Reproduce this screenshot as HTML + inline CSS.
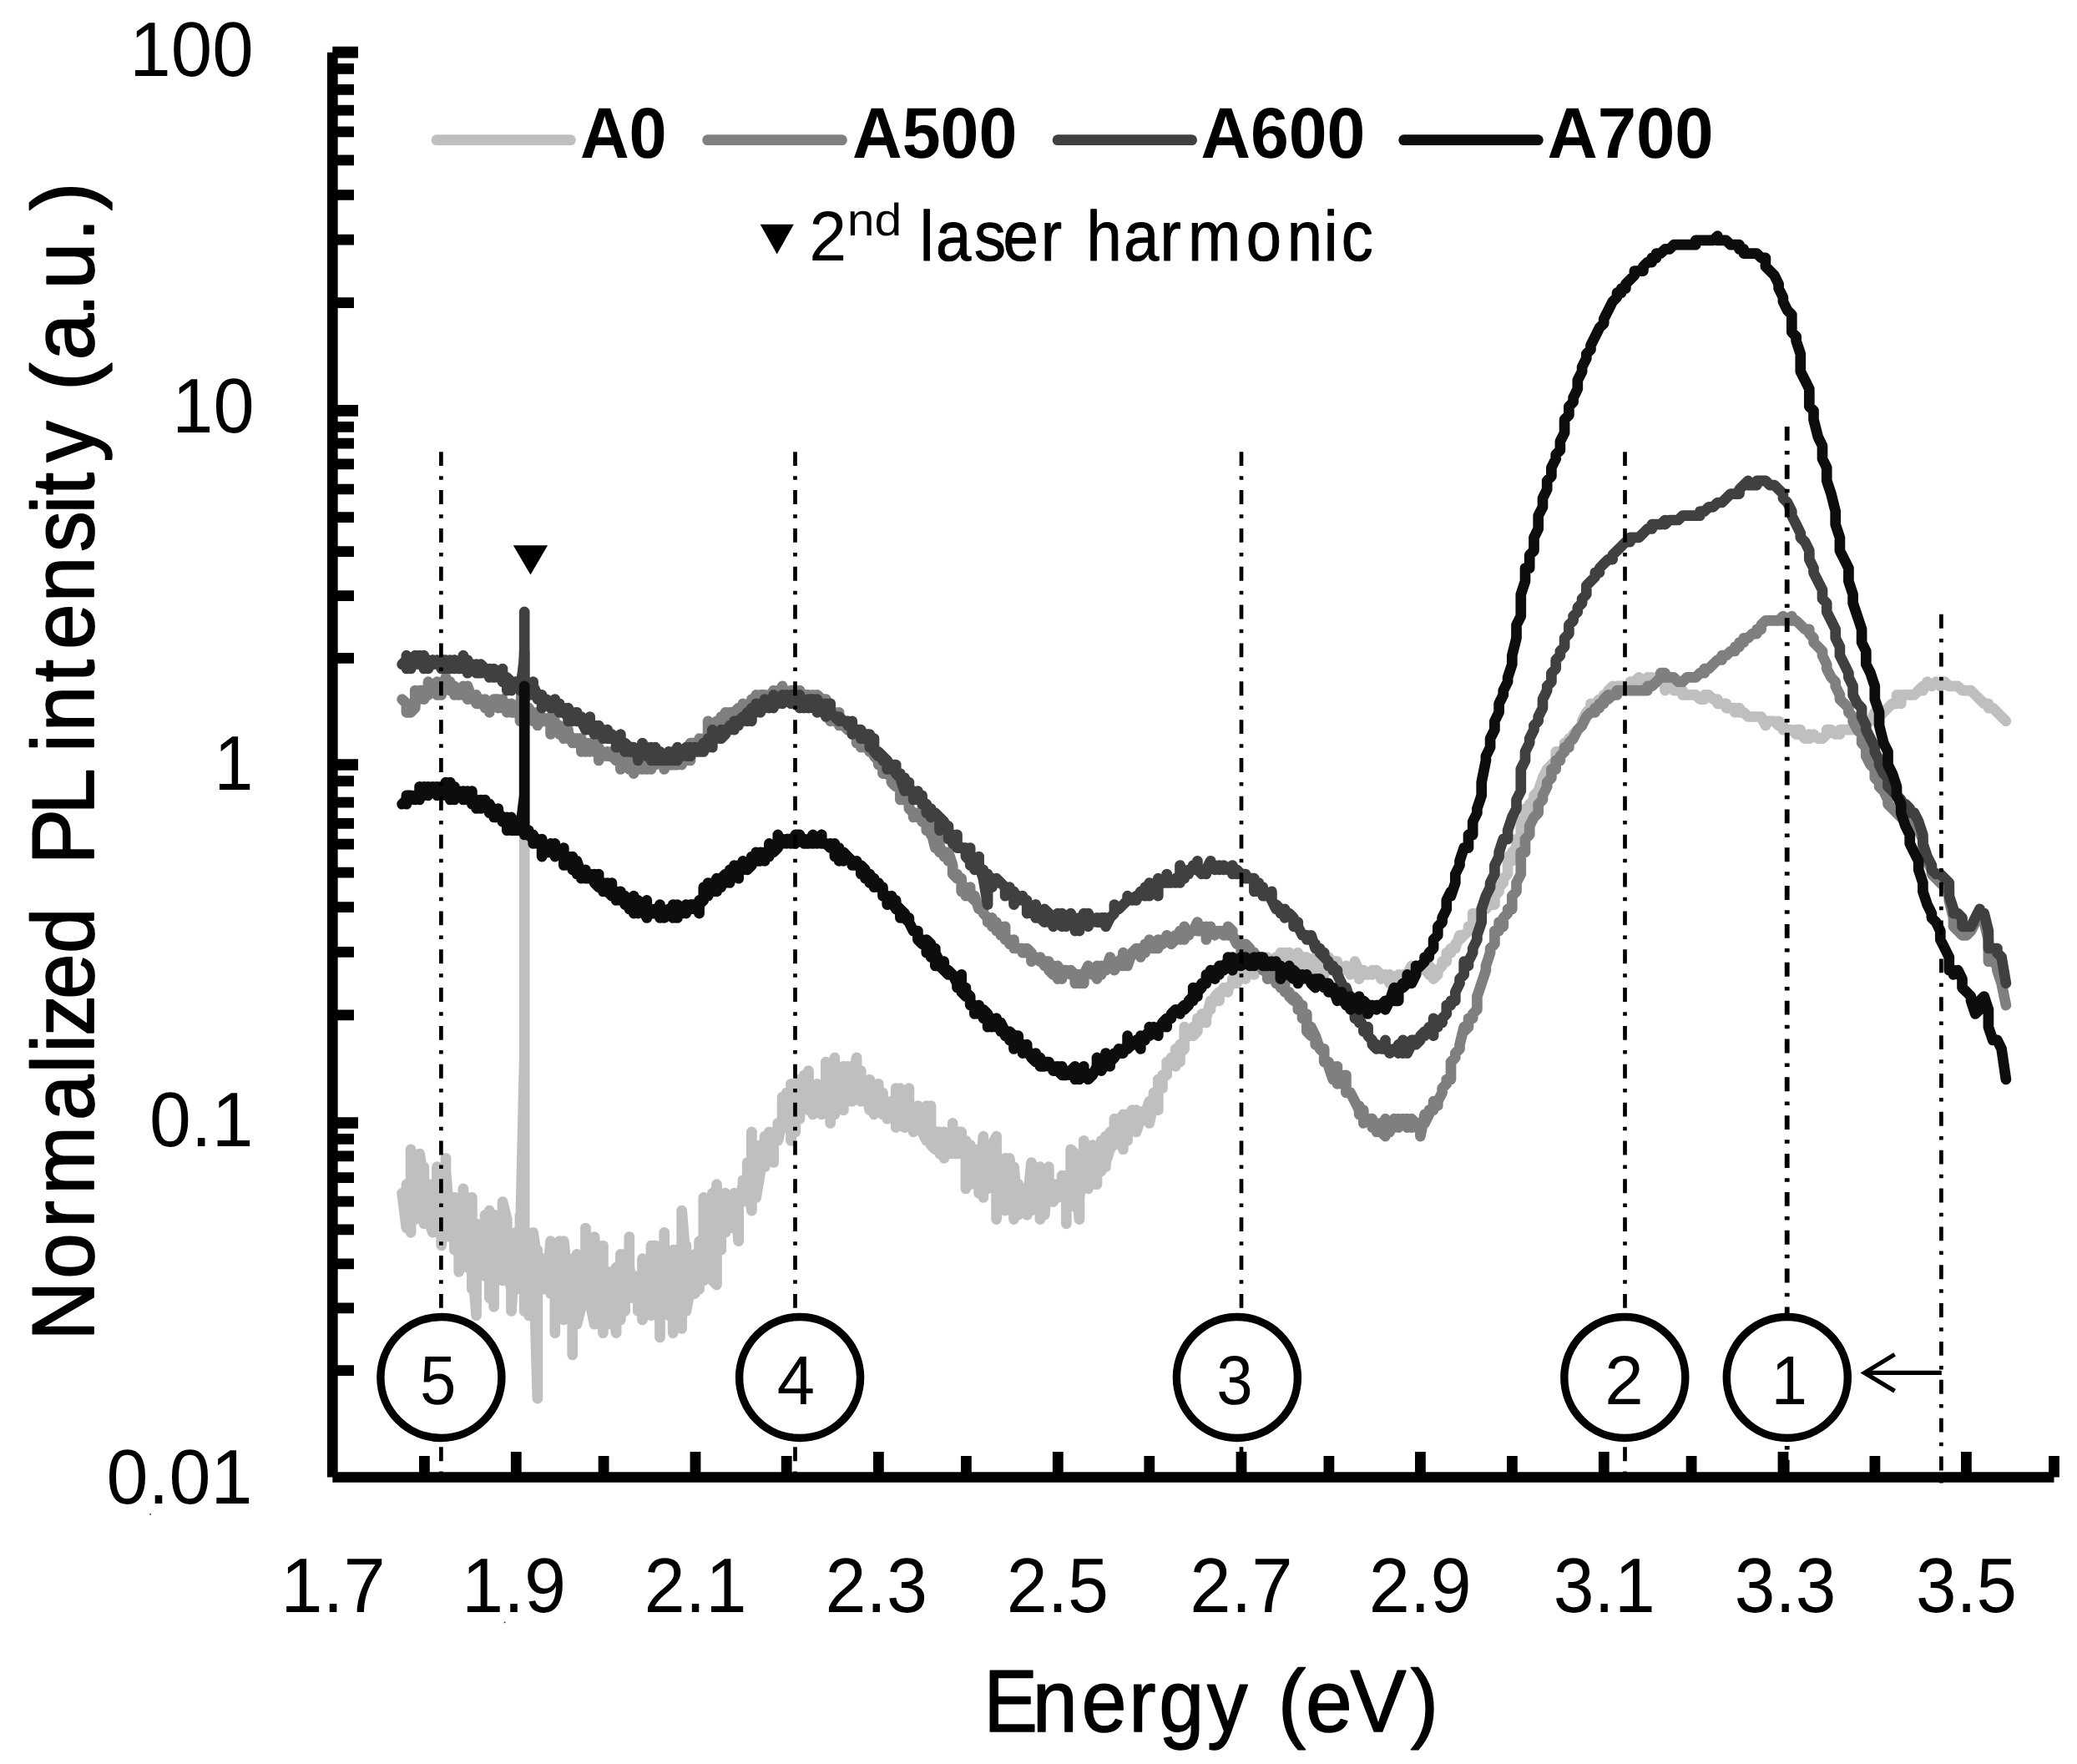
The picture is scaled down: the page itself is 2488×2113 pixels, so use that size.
<!DOCTYPE html>
<html><head><meta charset="utf-8"><title>PL spectra</title>
<style>html,body{margin:0;padding:0;background:#fff}svg{display:block}</style></head>
<body>
<svg width="2488" height="2113" viewBox="0 0 2488 2113" font-family="Liberation Sans, Arial, sans-serif" style="font-kerning:none" text-rendering="geometricPrecision">
<rect width="2488" height="2113" fill="#fff"/>
<g fill="none" stroke-width="12.7" stroke-linejoin="round" stroke-linecap="round">
<path stroke="#bfbfbf" d="M481.6,1429.2 L486.9,1471.0 L486.9,1418.7 L486.9,1423.9 L486.9,1418.7 L486.9,1450.1 L492.1,1429.2 L492.1,1455.3 L492.1,1387.3 L492.1,1455.3 L492.1,1376.8 L492.1,1476.3 L492.1,1429.2 L492.1,1455.3 L497.3,1429.2 L497.3,1423.9 L497.3,1460.6 L497.3,1429.2 L502.6,1455.3 L502.6,1392.5 L502.6,1450.1 L502.6,1382.0 L507.8,1413.5 L507.8,1423.9 L507.8,1397.7 L507.8,1465.8 L513.0,1434.4 L513.0,1418.7 L513.0,1460.6 L513.0,1434.4 L513.0,1460.6 L518.3,1476.3 L518.3,1418.7 L518.3,1455.3 L523.5,1476.3 L523.5,1408.2 L523.5,1429.2 L523.5,1397.7 L523.5,1450.1 L528.7,1465.8 L528.7,1429.2 L528.7,1492.0 L528.7,1465.8 L534.0,1481.5 L534.0,1413.5 L534.0,1471.0 L534.0,1387.3 L534.0,1476.3 L534.0,1403.0 L539.2,1465.8 L539.2,1450.1 L539.2,1481.5 L539.2,1444.9 L539.2,1471.0 L544.4,1434.4 L544.4,1481.5 L544.4,1460.6 L544.4,1476.3 L544.4,1450.1 L544.4,1497.2 L549.7,1481.5 L549.7,1460.6 L549.7,1523.4 L554.9,1423.9 L554.9,1497.2 L554.9,1444.9 L554.9,1512.9 L560.1,1439.6 L560.1,1518.2 L560.1,1434.4 L560.1,1471.0 L565.4,1444.9 L565.4,1544.3 L565.4,1434.4 L565.4,1507.7 L570.6,1575.7 L570.6,1507.7 L570.6,1533.9 L570.6,1465.8 L570.6,1497.2 L575.9,1486.7 L575.9,1471.0 L575.9,1502.4 L575.9,1486.7 L581.1,1486.7 L581.1,1455.3 L581.1,1528.6 L581.1,1486.7 L586.3,1450.1 L586.3,1533.9 L586.3,1512.9 L586.3,1554.8 L586.3,1481.5 L591.6,1455.3 L591.6,1565.3 L591.6,1476.3 L591.6,1481.5 L596.8,1518.2 L596.8,1476.3 L596.8,1492.0 L596.8,1486.7 L596.8,1507.7 L602.0,1533.9 L602.0,1502.4 L602.0,1528.6 L602.0,1486.7 L602.0,1512.9 L602.0,1439.6 L607.3,1460.6 L607.3,1523.4 L607.3,1486.7 L607.3,1518.2 L612.5,1544.3 L612.5,1528.6 L612.5,1533.9 L612.5,1486.7 L612.5,1570.5 L617.7,1486.7 L617.7,1492.0 L617.7,1476.3 L617.7,1507.7 L623.0,1518.2 L623.0,1455.3 L623.0,1544.3 L628.2,1528.6 L628.2,1492.0 L623.0,1492.0 L628.2,1266.9 L628.2,832.4 L628.2,1497.2 L628.2,1492.0 L628.2,1570.5 L628.2,1539.1 L633.4,1570.5 L633.4,1575.7 L633.4,1492.0 L633.4,1528.6 L638.7,1533.9 L638.7,1476.3 L643.9,1512.9 L638.7,1497.2 L643.9,1675.2 L643.9,1497.2 L643.9,1523.4 L643.9,1507.7 L643.9,1539.1 L649.1,1544.3 L649.1,1528.6 L649.1,1533.9 L649.1,1507.7 L654.4,1518.2 L654.4,1507.7 L654.4,1533.9 L654.4,1523.4 L654.4,1544.3 L659.6,1486.7 L659.6,1549.6 L659.6,1502.4 L659.6,1523.4 L664.8,1512.9 L664.8,1533.9 L664.8,1512.9 L664.8,1596.7 L664.8,1497.2 L664.8,1502.4 L670.1,1565.3 L670.1,1497.2 L670.1,1528.6 L670.1,1486.7 L675.3,1581.0 L675.3,1486.7 L675.3,1544.3 L675.3,1486.7 L680.6,1539.1 L680.6,1560.0 L680.6,1539.1 L680.6,1560.0 L685.8,1539.1 L685.8,1544.3 L685.8,1528.6 L685.8,1549.6 L685.8,1507.7 L685.8,1622.9 L685.8,1507.7 L691.0,1554.8 L691.0,1502.4 L691.0,1586.2 L696.3,1565.3 L696.3,1518.2 L696.3,1554.8 L696.3,1523.4 L696.3,1533.9 L701.5,1539.1 L701.5,1471.0 L701.5,1544.3 L701.5,1507.7 L701.5,1518.2 L706.7,1492.0 L706.7,1560.0 L712.0,1586.2 L712.0,1533.9 L712.0,1570.5 L712.0,1481.5 L717.2,1539.1 L717.2,1549.6 L717.2,1523.4 L717.2,1554.8 L722.4,1512.9 L722.4,1492.0 L722.4,1596.7 L722.4,1528.6 L727.7,1565.3 L727.7,1586.2 L727.7,1523.4 L727.7,1554.8 L732.9,1565.3 L732.9,1560.0 L732.9,1565.3 L732.9,1523.4 L732.9,1560.0 L738.1,1596.7 L738.1,1518.2 L738.1,1575.7 L743.4,1549.6 L743.4,1518.2 L743.4,1581.0 L743.4,1502.4 L748.6,1549.6 L748.6,1502.4 L748.6,1570.5 L748.6,1549.6 L753.8,1502.4 L753.8,1554.8 L753.8,1481.5 L753.8,1518.2 L759.1,1544.3 L759.1,1554.8 L759.1,1539.1 L764.3,1549.6 L764.3,1528.6 L764.3,1570.5 L764.3,1539.1 L764.3,1544.3 L769.5,1554.8 L769.5,1507.7 L769.5,1581.0 L774.8,1544.3 L774.8,1528.6 L774.8,1544.3 L774.8,1523.4 L774.8,1544.3 L780.0,1518.2 L780.0,1544.3 L780.0,1492.0 L780.0,1575.7 L785.2,1523.4 L785.2,1492.0 L785.2,1528.6 L785.2,1523.4 L785.2,1539.1 L790.5,1502.4 L790.5,1601.9 L790.5,1497.2 L795.7,1539.1 L795.7,1523.4 L795.7,1533.9 L795.7,1476.3 L795.7,1497.2 L801.0,1544.3 L801.0,1528.6 L801.0,1575.7 L801.0,1507.7 L806.2,1528.6 L806.2,1596.7 L806.2,1497.2 L811.4,1523.4 L811.4,1544.3 L811.4,1497.2 L816.7,1528.6 L816.7,1591.4 L816.7,1450.1 L821.9,1512.9 L821.9,1492.0 L821.9,1533.9 L821.9,1512.9 L821.9,1570.5 L827.1,1544.3 L827.1,1512.9 L832.4,1523.4 L832.4,1549.6 L832.4,1502.4 L837.6,1544.3 L837.6,1486.7 L842.8,1492.0 L842.8,1434.4 L842.8,1533.9 L842.8,1518.2 L848.1,1497.2 L848.1,1528.6 L848.1,1507.7 L853.3,1429.2 L853.3,1533.9 L858.5,1539.1 L858.5,1418.7 L863.8,1492.0 L863.8,1476.3 L863.8,1497.2 L863.8,1465.8 L869.0,1476.3 L869.0,1429.2 L869.0,1476.3 L869.0,1450.1 L869.0,1471.0 L874.2,1471.0 L874.2,1455.3 L874.2,1460.6 L874.2,1450.1 L879.5,1471.0 L879.5,1429.2 L884.7,1486.7 L884.7,1434.4 L884.7,1460.6 L884.7,1444.9 L890.0,1418.7 L890.0,1413.5 L890.0,1434.4 L895.2,1439.6 L895.2,1392.5 L895.2,1413.5 L900.4,1450.1 L900.4,1355.9 L900.4,1418.7 L900.4,1392.5 L905.7,1413.5 L905.7,1392.5 L905.7,1434.4 L910.9,1403.0 L910.9,1371.6 L916.1,1397.7 L916.1,1361.1 L916.1,1376.8 L921.4,1366.3 L921.4,1387.3 L921.4,1355.9 L926.6,1392.5 L926.6,1366.3 L931.8,1350.6 L931.8,1345.4 L931.8,1366.3 L937.1,1345.4 L937.1,1314.0 L937.1,1340.2 L937.1,1314.0 L942.3,1340.2 L942.3,1308.8 L942.3,1334.9 L947.5,1329.7 L947.5,1298.3 L947.5,1366.3 L952.8,1298.3 L952.8,1355.9 L952.8,1314.0 L958.0,1319.2 L958.0,1293.0 L958.0,1340.2 L958.0,1324.5 L963.2,1303.5 L963.2,1308.8 L963.2,1287.8 L968.5,1308.8 L968.5,1329.7 L968.5,1282.6 L968.5,1303.5 L973.7,1314.0 L973.7,1334.9 L973.7,1303.5 L978.9,1298.3 L978.9,1314.0 L978.9,1303.5 L984.2,1324.5 L984.2,1334.9 L984.2,1303.5 L989.4,1314.0 L989.4,1272.1 L989.4,1308.8 L994.7,1287.8 L994.7,1345.4 L994.7,1308.8 L999.9,1303.5 L999.9,1266.9 L999.9,1334.9 L1005.1,1293.0 L1005.1,1319.2 L1010.4,1277.3 L1010.4,1329.7 L1010.4,1308.8 L1015.6,1303.5 L1015.6,1319.2 L1015.6,1277.3 L1015.6,1303.5 L1020.8,1319.2 L1020.8,1282.6 L1020.8,1319.2 L1020.8,1293.0 L1026.1,1266.9 L1026.1,1298.3 L1026.1,1282.6 L1031.3,1308.8 L1031.3,1282.6 L1031.3,1319.2 L1031.3,1293.0 L1036.5,1308.8 L1036.5,1298.3 L1036.5,1303.5 L1041.8,1329.7 L1041.8,1293.0 L1047.0,1334.9 L1047.0,1308.8 L1047.0,1319.2 L1052.2,1298.3 L1052.2,1303.5 L1057.5,1324.5 L1057.5,1308.8 L1057.5,1334.9 L1062.7,1334.9 L1062.7,1324.5 L1062.7,1340.2 L1067.9,1319.2 L1067.9,1329.7 L1067.9,1324.5 L1073.2,1334.9 L1073.2,1303.5 L1073.2,1350.6 L1078.4,1308.8 L1078.4,1324.5 L1078.4,1303.5 L1078.4,1334.9 L1083.6,1350.6 L1083.6,1345.4 L1088.9,1303.5 L1088.9,1324.5 L1088.9,1319.2 L1094.1,1355.9 L1094.1,1334.9 L1099.4,1345.4 L1099.4,1324.5 L1104.6,1350.6 L1104.6,1355.9 L1109.8,1366.3 L1109.8,1324.5 L1109.8,1340.2 L1115.1,1350.6 L1115.1,1324.5 L1115.1,1371.6 L1120.3,1376.8 L1120.3,1355.9 L1125.5,1355.9 L1125.5,1382.0 L1125.5,1355.9 L1125.5,1366.3 L1130.8,1387.3 L1130.8,1355.9 L1136.0,1366.3 L1136.0,1382.0 L1141.2,1376.8 L1141.2,1382.0 L1141.2,1345.4 L1141.2,1361.1 L1146.5,1382.0 L1146.5,1355.9 L1151.7,1355.9 L1151.7,1382.0 L1156.9,1366.3 L1156.9,1423.9 L1156.9,1387.3 L1162.2,1418.7 L1162.2,1371.6 L1167.4,1392.5 L1167.4,1376.8 L1167.4,1413.5 L1172.6,1376.8 L1172.6,1429.2 L1172.6,1413.5 L1177.9,1361.1 L1177.9,1434.4 L1177.9,1387.3 L1183.1,1423.9 L1183.1,1371.6 L1183.1,1413.5 L1188.3,1371.6 L1188.3,1418.7 L1188.3,1371.6 L1193.6,1361.1 L1193.6,1460.6 L1198.8,1397.7 L1198.8,1429.2 L1198.8,1413.5 L1204.1,1408.2 L1204.1,1450.1 L1204.1,1387.3 L1209.3,1429.2 L1209.3,1387.3 L1214.5,1450.1 L1214.5,1460.6 L1214.5,1397.7 L1219.8,1455.3 L1219.8,1418.7 L1225.0,1450.1 L1225.0,1423.9 L1225.0,1429.2 L1230.2,1455.3 L1230.2,1444.9 L1235.5,1392.5 L1235.5,1450.1 L1240.7,1403.0 L1240.7,1429.2 L1240.7,1403.0 L1245.9,1423.9 L1245.9,1397.7 L1245.9,1460.6 L1251.2,1403.0 L1251.2,1455.3 L1256.4,1397.7 L1256.4,1429.2 L1256.4,1423.9 L1261.6,1439.6 L1261.6,1418.7 L1266.9,1434.4 L1266.9,1418.7 L1266.9,1434.4 L1272.1,1423.9 L1272.1,1408.2 L1272.1,1423.9 L1277.3,1429.2 L1277.3,1465.8 L1277.3,1408.2 L1282.6,1423.9 L1282.6,1444.9 L1282.6,1376.8 L1287.8,1382.0 L1287.8,1413.5 L1293.0,1460.6 L1293.0,1418.7 L1293.0,1434.4 L1298.3,1403.0 L1298.3,1366.3 L1303.5,1423.9 L1303.5,1376.8 L1308.8,1418.7 L1308.8,1371.6 L1314.0,1418.7 L1314.0,1382.0 L1319.2,1371.6 L1319.2,1403.0 L1319.2,1366.3 L1324.5,1397.7 L1324.5,1361.1 L1324.5,1392.5 L1329.7,1376.8 L1329.7,1355.9 L1334.9,1371.6 L1334.9,1340.2 L1334.9,1361.1 L1340.2,1355.9 L1340.2,1366.3 L1340.2,1340.2 L1345.4,1376.8 L1345.4,1334.9 L1350.6,1366.3 L1350.6,1340.2 L1355.9,1329.7 L1355.9,1340.2 L1361.1,1329.7 L1361.1,1355.9 L1366.3,1340.2 L1366.3,1334.9 L1371.6,1329.7 L1371.6,1334.9 L1376.8,1319.2 L1376.8,1345.4 L1382.0,1319.2 L1382.0,1308.8 L1387.3,1329.7 L1387.3,1293.0 L1392.5,1303.5 L1392.5,1287.8 L1397.7,1287.8 L1397.7,1272.1 L1403.0,1272.1 L1403.0,1266.9 L1408.2,1277.3 L1408.2,1256.4 L1413.5,1272.1 L1413.5,1251.2 L1413.5,1261.6 L1418.7,1256.4 L1418.7,1230.2 L1423.9,1240.7 L1429.2,1240.7 L1429.2,1230.2 L1429.2,1240.7 L1434.4,1235.5 L1434.4,1219.8 L1434.4,1230.2 L1439.6,1219.8 L1439.6,1214.5 L1444.9,1214.5 L1444.9,1225.0 L1444.9,1219.8 L1450.1,1198.8 L1450.1,1209.3 L1450.1,1204.1 L1455.3,1198.8 L1455.3,1193.6 L1460.6,1188.3 L1460.6,1198.8 L1460.6,1188.3 L1465.8,1188.3 L1465.8,1183.1 L1471.0,1188.3 L1471.0,1183.1 L1476.3,1177.9 L1476.3,1172.6 L1481.5,1177.9 L1481.5,1172.6 L1486.7,1172.6 L1486.7,1167.4 L1492.0,1167.4 L1492.0,1156.9 L1492.0,1172.6 L1497.2,1156.9 L1502.4,1167.4 L1502.4,1156.9 L1507.7,1156.9 L1507.7,1151.7 L1512.9,1156.9 L1512.9,1162.2 L1512.9,1151.7 L1518.2,1162.2 L1518.2,1146.5 L1523.4,1151.7 L1523.4,1156.9 L1523.4,1151.7 L1528.6,1156.9 L1528.6,1146.5 L1533.9,1146.5 L1533.9,1141.2 L1533.9,1146.5 L1539.1,1146.5 L1539.1,1141.2 L1544.3,1151.7 L1544.3,1141.2 L1549.6,1162.2 L1549.6,1146.5 L1554.8,1141.2 L1554.8,1156.9 L1560.0,1146.5 L1565.3,1146.5 L1565.3,1156.9 L1565.3,1151.7 L1570.5,1151.7 L1570.5,1156.9 L1575.7,1162.2 L1575.7,1146.5 L1575.7,1151.7 L1581.0,1151.7 L1581.0,1167.4 L1586.2,1167.4 L1586.2,1156.9 L1591.4,1162.2 L1591.4,1146.5 L1596.7,1156.9 L1596.7,1151.7 L1601.9,1151.7 L1601.9,1156.9 L1607.1,1162.2 L1612.4,1162.2 L1612.4,1156.9 L1612.4,1162.2 L1617.6,1162.2 L1617.6,1167.4 L1622.9,1156.9 L1622.9,1151.7 L1628.1,1162.2 L1628.1,1172.6 L1628.1,1167.4 L1633.3,1162.2 L1633.3,1167.4 L1638.6,1167.4 L1643.8,1162.2 L1643.8,1167.4 L1649.0,1162.2 L1654.3,1167.4 L1654.3,1172.6 L1659.5,1167.4 L1664.7,1177.9 L1664.7,1167.4 L1670.0,1172.6 L1670.0,1177.9 L1675.2,1167.4 L1675.2,1172.6 L1680.4,1172.6 L1680.4,1167.4 L1685.7,1167.4 L1690.9,1156.9 L1690.9,1172.6 L1696.1,1162.2 L1696.1,1156.9 L1696.1,1162.2 L1701.4,1156.9 L1706.6,1162.2 L1706.6,1156.9 L1711.8,1167.4 L1711.8,1156.9 L1717.1,1162.2 L1717.1,1172.6 L1722.3,1167.4 L1722.3,1162.2 L1727.6,1156.9 L1727.6,1151.7 L1732.8,1151.7 L1732.8,1141.2 L1738.0,1141.2 L1738.0,1136.0 L1743.3,1136.0 L1743.3,1130.8 L1743.3,1136.0 L1748.5,1120.3 L1748.5,1125.5 L1753.7,1120.3 L1759.0,1115.1 L1759.0,1109.8 L1764.2,1109.8 L1764.2,1094.1 L1769.4,1099.4 L1769.4,1094.1 L1774.7,1094.1 L1774.7,1088.9 L1779.9,1088.9 L1785.1,1083.6 L1790.4,1083.6 L1790.4,1073.2 L1795.6,1067.9 L1795.6,1062.7 L1800.8,1057.5 L1800.8,1052.2 L1806.1,1047.0 L1806.1,1026.1 L1811.3,1031.3 L1811.3,1020.8 L1816.5,1015.6 L1816.5,1005.1 L1821.8,1005.1 L1821.8,984.2 L1827.0,978.9 L1827.0,968.5 L1832.2,968.5 L1832.2,963.2 L1837.5,958.0 L1837.5,952.8 L1842.7,947.5 L1848.0,931.8 L1853.2,921.4 L1858.4,916.1 L1863.7,910.9 L1863.7,900.4 L1874.1,900.4 L1874.1,890.0 L1879.4,890.0 L1879.4,884.7 L1884.6,884.7 L1884.6,879.5 L1889.8,874.2 L1895.1,869.0 L1895.1,863.8 L1900.3,853.3 L1905.5,848.1 L1905.5,842.8 L1910.8,848.1 L1910.8,842.8 L1916.0,837.6 L1921.2,837.6 L1921.2,832.4 L1926.5,832.4 L1926.5,827.1 L1931.7,821.9 L1937.0,827.1 L1937.0,821.9 L1952.7,821.9 L1952.7,816.7 L1957.9,816.7 L1963.1,811.4 L1968.4,816.7 L1973.6,811.4 L1973.6,816.7 L1978.8,811.4 L1978.8,816.7 L1984.1,811.4 L1984.1,816.7 L1989.3,811.4 L1989.3,816.7 L1994.5,811.4 L1994.5,827.1 L1999.8,821.9 L2005.0,827.1 L2015.5,827.1 L2015.5,832.4 L2031.2,832.4 L2036.4,837.6 L2041.7,837.6 L2041.7,832.4 L2046.9,832.4 L2052.1,837.6 L2057.4,837.6 L2057.4,842.8 L2067.8,842.8 L2067.8,848.1 L2078.3,848.1 L2078.3,853.3 L2083.5,848.1 L2083.5,853.3 L2088.8,853.3 L2094.0,858.5 L2109.7,858.5 L2114.9,869.0 L2114.9,863.8 L2125.4,863.8 L2130.6,869.0 L2130.6,863.8 L2135.9,869.0 L2135.9,874.2 L2146.3,874.2 L2151.6,879.5 L2151.6,874.2 L2156.8,874.2 L2156.8,879.5 L2162.1,884.7 L2167.3,879.5 L2167.3,884.7 L2172.5,879.5 L2177.8,884.7 L2183.0,884.7 L2188.2,879.5 L2188.2,874.2 L2193.5,874.2 L2198.7,879.5 L2203.9,879.5 L2203.9,874.2 L2219.6,874.2 L2219.6,869.0 L2230.1,869.0 L2235.3,863.8 L2240.6,863.8 L2245.8,853.3 L2245.8,858.5 L2251.1,853.3 L2251.1,858.5 L2256.3,853.3 L2261.5,848.1 L2266.8,842.8 L2272.0,842.8 L2272.0,832.4 L2277.2,842.8 L2277.2,832.4 L2292.9,832.4 L2298.2,827.1 L2303.4,821.9 L2303.4,827.1 L2308.6,816.7 L2313.9,821.9 L2319.1,816.7 L2324.3,821.9 L2329.6,816.7 L2334.8,821.9 L2345.3,821.9 L2350.5,827.1 L2361.0,827.1 L2366.2,832.4 L2371.5,837.6 L2376.7,842.8 L2381.9,842.8 L2381.9,848.1 L2387.2,848.1 L2392.4,853.3 L2397.6,858.5 L2402.9,863.8"/>
<path stroke="#7f7f7f" d="M481.6,837.6 L486.9,842.8 L486.9,853.3 L486.9,842.8 L486.9,853.3 L492.1,853.3 L492.1,842.8 L492.1,853.3 L497.3,848.1 L497.3,827.1 L497.3,832.4 L502.6,832.4 L502.6,837.6 L502.6,827.1 L502.6,837.6 L502.6,827.1 L507.8,827.1 L507.8,837.6 L507.8,827.1 L507.8,837.6 L513.0,827.1 L513.0,832.4 L513.0,816.7 L513.0,832.4 L513.0,821.9 L518.3,821.9 L518.3,827.1 L523.5,816.7 L523.5,832.4 L523.5,827.1 L523.5,832.4 L528.7,832.4 L528.7,821.9 L528.7,827.1 L528.7,821.9 L528.7,827.1 L534.0,811.4 L534.0,821.9 L534.0,811.4 L534.0,816.7 L539.2,827.1 L539.2,816.7 L539.2,827.1 L539.2,821.9 L544.4,821.9 L544.4,832.4 L544.4,827.1 L549.7,832.4 L549.7,827.1 L554.9,832.4 L554.9,821.9 L554.9,832.4 L560.1,827.1 L560.1,821.9 L560.1,837.6 L560.1,821.9 L565.4,837.6 L565.4,832.4 L565.4,837.6 L565.4,832.4 L565.4,837.6 L570.6,837.6 L570.6,842.8 L570.6,832.4 L570.6,842.8 L575.9,842.8 L575.9,837.6 L575.9,842.8 L581.1,837.6 L581.1,848.1 L586.3,842.8 L586.3,853.3 L586.3,842.8 L591.6,842.8 L591.6,837.6 L591.6,842.8 L591.6,837.6 L596.8,837.6 L596.8,848.1 L596.8,842.8 L602.0,837.6 L602.0,848.1 L602.0,837.6 L602.0,848.1 L602.0,842.8 L607.3,842.8 L607.3,853.3 L607.3,842.8 L607.3,848.1 L612.5,848.1 L612.5,853.3 L612.5,842.8 L612.5,853.3 L617.7,853.3 L617.7,848.1 L617.7,853.3 L623.0,848.1 L623.0,858.5 L623.0,848.1 L623.0,863.8 L628.2,848.1 L628.2,853.3 L623.0,853.3 L628.2,780.0 L628.2,858.5 L628.2,848.1 L628.2,858.5 L633.4,858.5 L633.4,848.1 L638.7,858.5 L638.7,853.3 L638.7,863.8 L643.9,853.3 L643.9,869.0 L643.9,858.5 L649.1,863.8 L649.1,858.5 L649.1,863.8 L654.4,863.8 L659.6,858.5 L659.6,879.5 L664.8,869.0 L664.8,874.2 L664.8,863.8 L664.8,874.2 L670.1,874.2 L670.1,869.0 L670.1,879.5 L670.1,874.2 L675.3,879.5 L675.3,874.2 L675.3,884.7 L680.6,879.5 L680.6,874.2 L680.6,884.7 L680.6,879.5 L685.8,884.7 L685.8,890.0 L685.8,884.7 L691.0,884.7 L691.0,890.0 L691.0,884.7 L696.3,884.7 L696.3,900.4 L696.3,890.0 L701.5,890.0 L701.5,900.4 L701.5,890.0 L706.7,900.4 L706.7,890.0 L712.0,895.2 L712.0,890.0 L712.0,900.4 L717.2,895.2 L717.2,900.4 L717.2,895.2 L717.2,910.9 L717.2,900.4 L722.4,900.4 L722.4,905.7 L722.4,900.4 L727.7,905.7 L727.7,900.4 L727.7,905.7 L732.9,905.7 L732.9,900.4 L732.9,905.7 L738.1,910.9 L738.1,905.7 L738.1,910.9 L743.4,910.9 L743.4,905.7 L743.4,921.4 L748.6,910.9 L748.6,905.7 L748.6,916.1 L748.6,910.9 L753.8,916.1 L753.8,905.7 L753.8,910.9 L753.8,905.7 L753.8,921.4 L759.1,916.1 L759.1,926.6 L759.1,916.1 L764.3,910.9 L764.3,921.4 L764.3,910.9 L769.5,905.7 L769.5,921.4 L769.5,910.9 L774.8,916.1 L774.8,921.4 L774.8,910.9 L774.8,916.1 L780.0,910.9 L780.0,921.4 L780.0,910.9 L785.2,916.1 L785.2,905.7 L785.2,910.9 L790.5,910.9 L790.5,905.7 L795.7,916.1 L795.7,910.9 L795.7,921.4 L801.0,910.9 L801.0,916.1 L806.2,916.1 L806.2,910.9 L806.2,916.1 L811.4,916.1 L811.4,910.9 L811.4,916.1 L811.4,905.7 L811.4,916.1 L816.7,910.9 L816.7,916.1 L816.7,905.7 L821.9,905.7 L821.9,910.9 L821.9,905.7 L827.1,905.7 L827.1,910.9 L827.1,890.0 L832.4,890.0 L832.4,895.2 L832.4,890.0 L837.6,895.2 L837.6,890.0 L837.6,895.2 L837.6,884.7 L842.8,890.0 L842.8,884.7 L842.8,890.0 L848.1,884.7 L848.1,863.8 L853.3,884.7 L853.3,869.0 L858.5,884.7 L858.5,869.0 L858.5,874.2 L858.5,863.8 L863.8,863.8 L863.8,874.2 L863.8,858.5 L869.0,863.8 L869.0,869.0 L869.0,853.3 L869.0,863.8 L869.0,853.3 L874.2,863.8 L874.2,858.5 L874.2,863.8 L874.2,853.3 L879.5,853.3 L884.7,848.1 L884.7,853.3 L884.7,848.1 L890.0,853.3 L890.0,842.8 L895.2,848.1 L895.2,853.3 L895.2,848.1 L900.4,853.3 L900.4,837.6 L900.4,848.1 L900.4,842.8 L905.7,842.8 L905.7,832.4 L905.7,842.8 L905.7,837.6 L910.9,848.1 L910.9,832.4 L916.1,832.4 L916.1,837.6 L916.1,832.4 L916.1,842.8 L921.4,832.4 L921.4,837.6 L926.6,827.1 L926.6,832.4 L931.8,827.1 L931.8,837.6 L937.1,827.1 L937.1,837.6 L937.1,821.9 L942.3,837.6 L942.3,832.4 L947.5,837.6 L947.5,827.1 L947.5,832.4 L947.5,827.1 L952.8,827.1 L952.8,837.6 L958.0,832.4 L958.0,827.1 L958.0,837.6 L963.2,837.6 L963.2,832.4 L968.5,832.4 L968.5,842.8 L968.5,837.6 L973.7,837.6 L973.7,832.4 L973.7,837.6 L978.9,837.6 L978.9,832.4 L984.2,837.6 L984.2,848.1 L984.2,837.6 L989.4,837.6 L989.4,842.8 L994.7,842.8 L994.7,863.8 L994.7,853.3 L999.9,853.3 L999.9,863.8 L1005.1,858.5 L1005.1,853.3 L1005.1,869.0 L1010.4,869.0 L1015.6,874.2 L1015.6,869.0 L1015.6,874.2 L1015.6,869.0 L1020.8,874.2 L1026.1,884.7 L1026.1,890.0 L1026.1,879.5 L1031.3,879.5 L1031.3,895.2 L1031.3,884.7 L1031.3,890.0 L1036.5,890.0 L1036.5,895.2 L1036.5,890.0 L1041.8,900.4 L1041.8,890.0 L1041.8,900.4 L1047.0,900.4 L1047.0,905.7 L1052.2,910.9 L1052.2,916.1 L1057.5,916.1 L1057.5,926.6 L1057.5,916.1 L1062.7,926.6 L1067.9,931.8 L1067.9,926.6 L1067.9,937.1 L1073.2,942.3 L1078.4,942.3 L1078.4,958.0 L1088.9,958.0 L1088.9,968.5 L1094.1,973.7 L1094.1,978.9 L1099.4,973.7 L1099.4,978.9 L1104.6,978.9 L1104.6,984.2 L1104.6,978.9 L1109.8,989.4 L1109.8,994.7 L1115.1,989.4 L1115.1,999.9 L1115.1,994.7 L1120.3,1015.6 L1120.3,1005.1 L1125.5,1020.8 L1125.5,1005.1 L1125.5,1015.6 L1130.8,1020.8 L1130.8,1026.1 L1130.8,1020.8 L1136.0,1026.1 L1136.0,1031.3 L1136.0,1020.8 L1141.2,1036.5 L1141.2,1047.0 L1146.5,1052.2 L1146.5,1047.0 L1146.5,1052.2 L1151.7,1052.2 L1151.7,1067.9 L1156.9,1062.7 L1156.9,1073.2 L1162.2,1062.7 L1162.2,1073.2 L1167.4,1078.4 L1167.4,1073.2 L1172.6,1088.9 L1172.6,1083.6 L1177.9,1088.9 L1177.9,1094.1 L1183.1,1099.4 L1183.1,1104.6 L1188.3,1099.4 L1188.3,1109.8 L1193.6,1104.6 L1193.6,1115.1 L1198.8,1109.8 L1198.8,1120.3 L1204.1,1109.8 L1204.1,1125.5 L1204.1,1115.1 L1204.1,1125.5 L1209.3,1125.5 L1209.3,1130.8 L1214.5,1130.8 L1214.5,1125.5 L1214.5,1136.0 L1225.0,1136.0 L1225.0,1141.2 L1230.2,1141.2 L1230.2,1136.0 L1235.5,1141.2 L1235.5,1151.7 L1235.5,1146.5 L1240.7,1146.5 L1245.9,1151.7 L1245.9,1146.5 L1251.2,1156.9 L1251.2,1151.7 L1256.4,1151.7 L1256.4,1162.2 L1261.6,1167.4 L1261.6,1156.9 L1261.6,1162.2 L1266.9,1156.9 L1266.9,1172.6 L1266.9,1156.9 L1272.1,1167.4 L1272.1,1172.6 L1272.1,1162.2 L1277.3,1162.2 L1282.6,1167.4 L1282.6,1162.2 L1287.8,1167.4 L1287.8,1177.9 L1287.8,1167.4 L1293.0,1167.4 L1293.0,1177.9 L1293.0,1167.4 L1298.3,1167.4 L1298.3,1177.9 L1298.3,1167.4 L1303.5,1156.9 L1303.5,1162.2 L1303.5,1156.9 L1308.8,1162.2 L1308.8,1167.4 L1314.0,1156.9 L1314.0,1172.6 L1314.0,1167.4 L1319.2,1167.4 L1319.2,1156.9 L1319.2,1162.2 L1324.5,1162.2 L1329.7,1146.5 L1329.7,1151.7 L1334.9,1151.7 L1334.9,1162.2 L1340.2,1151.7 L1340.2,1156.9 L1340.2,1151.7 L1345.4,1146.5 L1345.4,1156.9 L1345.4,1141.2 L1350.6,1151.7 L1350.6,1156.9 L1355.9,1141.2 L1361.1,1136.0 L1361.1,1141.2 L1366.3,1141.2 L1366.3,1146.5 L1366.3,1136.0 L1371.6,1141.2 L1371.6,1130.8 L1371.6,1136.0 L1376.8,1136.0 L1376.8,1125.5 L1376.8,1136.0 L1387.3,1136.0 L1387.3,1125.5 L1392.5,1130.8 L1392.5,1125.5 L1392.5,1130.8 L1397.7,1125.5 L1397.7,1120.3 L1403.0,1125.5 L1403.0,1130.8 L1408.2,1125.5 L1408.2,1120.3 L1413.5,1125.5 L1413.5,1115.1 L1418.7,1120.3 L1418.7,1125.5 L1418.7,1109.8 L1423.9,1120.3 L1423.9,1115.1 L1429.2,1115.1 L1434.4,1104.6 L1434.4,1115.1 L1439.6,1115.1 L1439.6,1109.8 L1444.9,1115.1 L1444.9,1125.5 L1444.9,1109.8 L1450.1,1115.1 L1450.1,1109.8 L1450.1,1115.1 L1455.3,1115.1 L1455.3,1120.3 L1460.6,1115.1 L1465.8,1120.3 L1465.8,1115.1 L1471.0,1120.3 L1471.0,1109.8 L1476.3,1115.1 L1476.3,1120.3 L1481.5,1130.8 L1481.5,1125.5 L1486.7,1136.0 L1486.7,1141.2 L1486.7,1136.0 L1492.0,1136.0 L1492.0,1130.8 L1497.2,1136.0 L1497.2,1141.2 L1502.4,1151.7 L1502.4,1141.2 L1507.7,1151.7 L1512.9,1162.2 L1518.2,1156.9 L1518.2,1172.6 L1523.4,1167.4 L1523.4,1172.6 L1528.6,1167.4 L1528.6,1177.9 L1533.9,1172.6 L1533.9,1183.1 L1539.1,1172.6 L1539.1,1188.3 L1544.3,1188.3 L1544.3,1193.6 L1549.6,1198.8 L1549.6,1193.6 L1554.8,1198.8 L1554.8,1209.3 L1560.0,1204.1 L1560.0,1219.8 L1565.3,1214.5 L1565.3,1235.5 L1570.5,1240.7 L1570.5,1230.2 L1575.7,1240.7 L1575.7,1251.2 L1575.7,1240.7 L1581.0,1256.4 L1586.2,1261.6 L1586.2,1256.4 L1586.2,1272.1 L1591.4,1272.1 L1591.4,1277.3 L1596.7,1293.0 L1596.7,1277.3 L1601.9,1282.6 L1601.9,1277.3 L1601.9,1298.3 L1607.1,1287.8 L1607.1,1298.3 L1612.4,1287.8 L1612.4,1308.8 L1617.6,1308.8 L1622.9,1319.2 L1628.1,1329.7 L1628.1,1324.5 L1628.1,1334.9 L1633.3,1329.7 L1633.3,1345.4 L1638.6,1340.2 L1643.8,1340.2 L1643.8,1350.6 L1649.0,1345.4 L1649.0,1355.9 L1654.3,1345.4 L1654.3,1355.9 L1659.5,1361.1 L1659.5,1340.2 L1659.5,1355.9 L1664.7,1355.9 L1664.7,1350.6 L1670.0,1350.6 L1670.0,1340.2 L1675.2,1350.6 L1675.2,1340.2 L1680.4,1345.4 L1680.4,1340.2 L1685.7,1350.6 L1685.7,1340.2 L1690.9,1350.6 L1690.9,1340.2 L1696.1,1345.4 L1701.4,1355.9 L1701.4,1361.1 L1706.6,1334.9 L1706.6,1345.4 L1711.8,1334.9 L1711.8,1329.7 L1717.1,1329.7 L1717.1,1319.2 L1722.3,1324.5 L1722.3,1319.2 L1727.6,1308.8 L1727.6,1303.5 L1732.8,1298.3 L1732.8,1293.0 L1738.0,1293.0 L1738.0,1272.1 L1743.3,1266.9 L1743.3,1261.6 L1748.5,1256.4 L1748.5,1251.2 L1753.7,1230.2 L1753.7,1235.5 L1759.0,1230.2 L1759.0,1219.8 L1764.2,1219.8 L1764.2,1214.5 L1769.4,1209.3 L1769.4,1193.6 L1774.7,1177.9 L1779.9,1162.2 L1779.9,1156.9 L1785.1,1141.2 L1785.1,1136.0 L1790.4,1130.8 L1790.4,1115.1 L1795.6,1115.1 L1795.6,1104.6 L1800.8,1109.8 L1800.8,1099.4 L1806.1,1094.1 L1806.1,1088.9 L1811.3,1088.9 L1811.3,1073.2 L1816.5,1067.9 L1816.5,1057.5 L1821.8,1047.0 L1821.8,1020.8 L1827.0,1020.8 L1827.0,1005.1 L1832.2,999.9 L1832.2,989.4 L1837.5,978.9 L1842.7,973.7 L1842.7,963.2 L1848.0,958.0 L1848.0,952.8 L1853.2,942.3 L1853.2,937.1 L1858.4,931.8 L1858.4,921.4 L1863.7,921.4 L1863.7,910.9 L1868.9,910.9 L1868.9,905.7 L1874.1,900.4 L1874.1,895.2 L1879.4,895.2 L1879.4,890.0 L1884.6,884.7 L1889.8,874.2 L1895.1,869.0 L1900.3,858.5 L1905.5,853.3 L1910.8,853.3 L1910.8,848.1 L1916.0,848.1 L1916.0,842.8 L1921.2,842.8 L1921.2,837.6 L1926.5,832.4 L1926.5,837.6 L1931.7,832.4 L1937.0,832.4 L1937.0,827.1 L1973.6,827.1 L1973.6,821.9 L1978.8,821.9 L1984.1,816.7 L1989.3,811.4 L1989.3,806.2 L1994.5,806.2 L1994.5,811.4 L2005.0,811.4 L2010.2,816.7 L2015.5,816.7 L2020.7,811.4 L2031.2,811.4 L2036.4,806.2 L2041.7,806.2 L2041.7,801.0 L2046.9,801.0 L2052.1,795.7 L2057.4,790.5 L2062.6,790.5 L2062.6,785.2 L2067.8,785.2 L2073.1,780.0 L2078.3,780.0 L2078.3,774.8 L2083.5,774.8 L2083.5,769.5 L2088.8,769.5 L2088.8,764.3 L2094.0,764.3 L2099.2,759.1 L2104.5,759.1 L2104.5,753.8 L2109.7,753.8 L2109.7,748.6 L2114.9,743.4 L2130.6,743.4 L2135.9,738.1 L2135.9,743.4 L2141.1,743.4 L2146.3,738.1 L2146.3,743.4 L2151.6,743.4 L2156.8,748.6 L2162.1,753.8 L2167.3,753.8 L2167.3,759.1 L2172.5,764.3 L2172.5,769.5 L2177.8,774.8 L2183.0,780.0 L2183.0,785.2 L2188.2,795.7 L2188.2,801.0 L2193.5,811.4 L2198.7,816.7 L2198.7,821.9 L2203.9,832.4 L2203.9,837.6 L2209.2,842.8 L2214.4,848.1 L2214.4,853.3 L2219.6,858.5 L2219.6,863.8 L2224.9,874.2 L2230.1,879.5 L2230.1,890.0 L2235.3,895.2 L2235.3,905.7 L2240.6,916.1 L2245.8,921.4 L2245.8,931.8 L2251.1,937.1 L2251.1,942.3 L2256.3,947.5 L2261.5,958.0 L2261.5,963.2 L2266.8,968.5 L2272.0,973.7 L2277.2,978.9 L2282.5,978.9 L2287.7,984.2 L2292.9,989.4 L2298.2,989.4 L2298.2,994.7 L2303.4,1005.1 L2303.4,1015.6 L2308.6,1031.3 L2313.9,1041.8 L2313.9,1047.0 L2319.1,1052.2 L2324.3,1057.5 L2329.6,1062.7 L2334.8,1067.9 L2334.8,1078.4 L2340.0,1099.4 L2340.0,1109.8 L2345.3,1115.1 L2350.5,1120.3 L2355.8,1120.3 L2361.0,1115.1 L2366.2,1104.6 L2371.5,1099.4 L2376.7,1104.6 L2381.9,1125.5 L2381.9,1151.7 L2387.2,1151.7 L2392.4,1156.9 L2392.4,1162.2 L2397.6,1177.9 L2402.9,1204.1"/>
<path stroke="#404040" d="M481.6,795.7 L486.9,790.5 L486.9,795.7 L486.9,785.2 L486.9,801.0 L486.9,795.7 L492.1,795.7 L492.1,801.0 L492.1,790.5 L492.1,801.0 L497.3,785.2 L497.3,795.7 L497.3,790.5 L497.3,795.7 L502.6,790.5 L502.6,795.7 L502.6,785.2 L502.6,795.7 L507.8,795.7 L507.8,785.2 L507.8,801.0 L507.8,785.2 L507.8,795.7 L513.0,795.7 L513.0,790.5 L513.0,795.7 L513.0,790.5 L513.0,801.0 L518.3,790.5 L518.3,795.7 L518.3,790.5 L518.3,795.7 L523.5,790.5 L523.5,795.7 L523.5,790.5 L523.5,795.7 L528.7,790.5 L528.7,795.7 L528.7,790.5 L528.7,801.0 L528.7,790.5 L534.0,790.5 L534.0,795.7 L534.0,790.5 L534.0,801.0 L534.0,795.7 L539.2,801.0 L539.2,790.5 L539.2,801.0 L539.2,790.5 L539.2,801.0 L544.4,790.5 L544.4,801.0 L544.4,790.5 L549.7,801.0 L549.7,795.7 L554.9,795.7 L554.9,790.5 L554.9,801.0 L554.9,785.2 L554.9,795.7 L560.1,801.0 L560.1,806.2 L560.1,790.5 L560.1,801.0 L565.4,801.0 L565.4,795.7 L565.4,801.0 L565.4,795.7 L565.4,801.0 L565.4,795.7 L570.6,801.0 L570.6,795.7 L570.6,806.2 L575.9,806.2 L575.9,795.7 L575.9,801.0 L575.9,795.7 L581.1,801.0 L581.1,806.2 L581.1,801.0 L581.1,806.2 L586.3,806.2 L586.3,801.0 L586.3,811.4 L591.6,806.2 L591.6,801.0 L591.6,811.4 L591.6,806.2 L596.8,806.2 L596.8,811.4 L596.8,806.2 L602.0,801.0 L602.0,816.7 L602.0,806.2 L602.0,811.4 L607.3,811.4 L607.3,827.1 L607.3,811.4 L612.5,816.7 L612.5,821.9 L612.5,816.7 L612.5,827.1 L617.7,816.7 L617.7,821.9 L617.7,816.7 L623.0,821.9 L623.0,816.7 L623.0,827.1 L623.0,816.7 L623.0,821.9 L628.2,821.9 L628.2,827.1 L623.0,827.1 L628.2,790.5 L628.2,732.9 L628.2,832.4 L628.2,827.1 L633.4,821.9 L633.4,832.4 L633.4,827.1 L633.4,832.4 L638.7,816.7 L638.7,832.4 L638.7,821.9 L643.9,832.4 L643.9,837.6 L643.9,832.4 L643.9,837.6 L649.1,837.6 L649.1,842.8 L649.1,832.4 L649.1,848.1 L654.4,842.8 L654.4,837.6 L659.6,842.8 L659.6,848.1 L659.6,842.8 L664.8,837.6 L664.8,842.8 L664.8,837.6 L664.8,848.1 L664.8,842.8 L670.1,848.1 L670.1,842.8 L670.1,853.3 L675.3,853.3 L675.3,848.1 L675.3,853.3 L680.6,858.5 L680.6,848.1 L680.6,863.8 L680.6,848.1 L685.8,858.5 L685.8,853.3 L685.8,863.8 L691.0,853.3 L691.0,863.8 L691.0,858.5 L691.0,863.8 L696.3,858.5 L696.3,863.8 L696.3,858.5 L696.3,863.8 L701.5,874.2 L701.5,869.0 L706.7,869.0 L706.7,858.5 L706.7,874.2 L712.0,874.2 L712.0,879.5 L712.0,869.0 L712.0,879.5 L712.0,874.2 L717.2,869.0 L717.2,879.5 L722.4,874.2 L722.4,884.7 L722.4,874.2 L722.4,884.7 L727.7,874.2 L727.7,884.7 L727.7,874.2 L727.7,884.7 L732.9,884.7 L732.9,879.5 L732.9,884.7 L732.9,879.5 L732.9,884.7 L738.1,884.7 L738.1,890.0 L738.1,884.7 L738.1,895.2 L738.1,890.0 L743.4,890.0 L743.4,879.5 L743.4,890.0 L748.6,900.4 L748.6,890.0 L748.6,900.4 L748.6,890.0 L753.8,895.2 L753.8,900.4 L753.8,895.2 L759.1,895.2 L759.1,900.4 L764.3,905.7 L764.3,900.4 L764.3,910.9 L764.3,900.4 L769.5,895.2 L769.5,890.0 L769.5,900.4 L774.8,895.2 L774.8,905.7 L774.8,895.2 L774.8,905.7 L780.0,905.7 L780.0,895.2 L780.0,910.9 L785.2,905.7 L785.2,895.2 L785.2,910.9 L785.2,900.4 L790.5,905.7 L790.5,900.4 L790.5,910.9 L790.5,900.4 L795.7,910.9 L795.7,905.7 L795.7,910.9 L795.7,905.7 L795.7,910.9 L801.0,900.4 L801.0,905.7 L801.0,900.4 L801.0,910.9 L806.2,900.4 L806.2,910.9 L806.2,900.4 L811.4,900.4 L811.4,910.9 L811.4,900.4 L811.4,905.7 L811.4,895.2 L816.7,905.7 L821.9,900.4 L821.9,895.2 L821.9,905.7 L827.1,905.7 L827.1,900.4 L827.1,905.7 L827.1,895.2 L832.4,900.4 L832.4,895.2 L832.4,900.4 L837.6,900.4 L837.6,895.2 L837.6,900.4 L842.8,900.4 L842.8,890.0 L842.8,895.2 L842.8,890.0 L842.8,895.2 L848.1,895.2 L848.1,884.7 L853.3,895.2 L853.3,874.2 L853.3,884.7 L858.5,884.7 L858.5,879.5 L863.8,884.7 L863.8,874.2 L863.8,884.7 L869.0,879.5 L869.0,874.2 L869.0,879.5 L869.0,874.2 L874.2,874.2 L874.2,869.0 L874.2,874.2 L874.2,869.0 L879.5,869.0 L879.5,874.2 L879.5,863.8 L884.7,863.8 L884.7,869.0 L884.7,863.8 L890.0,858.5 L890.0,863.8 L895.2,853.3 L895.2,863.8 L900.4,858.5 L900.4,848.1 L900.4,863.8 L900.4,853.3 L905.7,853.3 L905.7,842.8 L905.7,848.1 L910.9,853.3 L910.9,842.8 L916.1,848.1 L916.1,837.6 L921.4,842.8 L921.4,848.1 L926.6,842.8 L926.6,832.4 L926.6,848.1 L926.6,842.8 L931.8,842.8 L931.8,837.6 L937.1,837.6 L937.1,832.4 L937.1,842.8 L942.3,832.4 L942.3,837.6 L947.5,842.8 L947.5,837.6 L947.5,842.8 L947.5,832.4 L952.8,832.4 L952.8,837.6 L958.0,848.1 L958.0,832.4 L958.0,842.8 L963.2,848.1 L963.2,842.8 L968.5,848.1 L968.5,837.6 L973.7,837.6 L973.7,848.1 L978.9,842.8 L978.9,837.6 L978.9,853.3 L978.9,848.1 L984.2,853.3 L984.2,842.8 L984.2,848.1 L989.4,848.1 L989.4,858.5 L989.4,842.8 L994.7,848.1 L994.7,853.3 L994.7,842.8 L994.7,853.3 L999.9,858.5 L1005.1,863.8 L1005.1,858.5 L1010.4,863.8 L1015.6,863.8 L1015.6,869.0 L1020.8,863.8 L1020.8,879.5 L1020.8,874.2 L1031.3,874.2 L1031.3,884.7 L1036.5,884.7 L1036.5,879.5 L1041.8,879.5 L1041.8,895.2 L1047.0,884.7 L1047.0,900.4 L1052.2,905.7 L1052.2,900.4 L1057.5,905.7 L1057.5,910.9 L1057.5,905.7 L1062.7,910.9 L1062.7,921.4 L1062.7,910.9 L1067.9,921.4 L1067.9,916.1 L1073.2,916.1 L1073.2,926.6 L1078.4,931.8 L1078.4,926.6 L1078.4,931.8 L1083.6,947.5 L1083.6,931.8 L1088.9,947.5 L1088.9,937.1 L1088.9,947.5 L1088.9,942.3 L1094.1,952.8 L1094.1,958.0 L1094.1,947.5 L1099.4,952.8 L1099.4,947.5 L1099.4,958.0 L1104.6,952.8 L1104.6,963.2 L1109.8,963.2 L1109.8,973.7 L1115.1,968.5 L1115.1,978.9 L1120.3,973.7 L1125.5,978.9 L1125.5,994.7 L1125.5,978.9 L1130.8,984.2 L1130.8,989.4 L1136.0,989.4 L1136.0,1005.1 L1141.2,1005.1 L1141.2,999.9 L1141.2,1010.4 L1146.5,999.9 L1146.5,1015.6 L1156.9,1015.6 L1156.9,1026.1 L1162.2,1031.3 L1162.2,1015.6 L1162.2,1036.5 L1167.4,1036.5 L1167.4,1041.8 L1167.4,1031.3 L1172.6,1026.1 L1172.6,1036.5 L1177.9,1052.2 L1177.9,1041.8 L1177.9,1052.2 L1183.1,1083.6 L1183.1,1047.0 L1188.3,1062.7 L1188.3,1052.2 L1193.6,1057.5 L1193.6,1052.2 L1198.8,1057.5 L1204.1,1062.7 L1204.1,1073.2 L1209.3,1062.7 L1209.3,1067.9 L1214.5,1067.9 L1214.5,1083.6 L1219.8,1073.2 L1219.8,1078.4 L1225.0,1073.2 L1225.0,1078.4 L1230.2,1078.4 L1230.2,1094.1 L1235.5,1088.9 L1235.5,1094.1 L1240.7,1083.6 L1240.7,1099.4 L1240.7,1083.6 L1245.9,1099.4 L1245.9,1094.1 L1245.9,1099.4 L1251.2,1104.6 L1251.2,1088.9 L1256.4,1094.1 L1256.4,1104.6 L1261.6,1104.6 L1261.6,1109.8 L1266.9,1099.4 L1266.9,1094.1 L1266.9,1099.4 L1272.1,1109.8 L1272.1,1094.1 L1277.3,1104.6 L1277.3,1109.8 L1282.6,1104.6 L1282.6,1094.1 L1287.8,1104.6 L1287.8,1115.1 L1287.8,1104.6 L1293.0,1115.1 L1293.0,1099.4 L1293.0,1104.6 L1298.3,1104.6 L1298.3,1094.1 L1303.5,1109.8 L1303.5,1094.1 L1308.8,1104.6 L1314.0,1099.4 L1314.0,1104.6 L1319.2,1104.6 L1319.2,1099.4 L1324.5,1099.4 L1324.5,1109.8 L1329.7,1099.4 L1334.9,1094.1 L1334.9,1083.6 L1334.9,1088.9 L1340.2,1088.9 L1345.4,1083.6 L1350.6,1078.4 L1350.6,1073.2 L1355.9,1078.4 L1361.1,1073.2 L1361.1,1078.4 L1366.3,1067.9 L1371.6,1073.2 L1371.6,1062.7 L1371.6,1067.9 L1376.8,1057.5 L1376.8,1073.2 L1376.8,1067.9 L1382.0,1062.7 L1387.3,1073.2 L1387.3,1052.2 L1392.5,1057.5 L1397.7,1057.5 L1397.7,1047.0 L1397.7,1057.5 L1403.0,1057.5 L1408.2,1052.2 L1408.2,1057.5 L1413.5,1052.2 L1413.5,1057.5 L1413.5,1036.5 L1418.7,1052.2 L1418.7,1047.0 L1423.9,1047.0 L1423.9,1041.8 L1429.2,1041.8 L1429.2,1036.5 L1434.4,1041.8 L1434.4,1031.3 L1434.4,1041.8 L1439.6,1047.0 L1444.9,1041.8 L1444.9,1047.0 L1444.9,1041.8 L1450.1,1031.3 L1450.1,1036.5 L1455.3,1036.5 L1455.3,1041.8 L1460.6,1036.5 L1460.6,1041.8 L1465.8,1036.5 L1465.8,1041.8 L1465.8,1036.5 L1471.0,1041.8 L1476.3,1036.5 L1476.3,1047.0 L1476.3,1036.5 L1481.5,1047.0 L1481.5,1041.8 L1486.7,1047.0 L1492.0,1047.0 L1492.0,1052.2 L1502.4,1052.2 L1502.4,1067.9 L1507.7,1057.5 L1507.7,1067.9 L1512.9,1062.7 L1512.9,1073.2 L1518.2,1073.2 L1523.4,1067.9 L1523.4,1078.4 L1528.6,1088.9 L1528.6,1083.6 L1533.9,1088.9 L1533.9,1094.1 L1539.1,1088.9 L1539.1,1099.4 L1544.3,1094.1 L1549.6,1099.4 L1549.6,1109.8 L1554.8,1104.6 L1554.8,1109.8 L1560.0,1120.3 L1565.3,1120.3 L1565.3,1125.5 L1570.5,1120.3 L1575.7,1136.0 L1575.7,1130.8 L1575.7,1136.0 L1581.0,1136.0 L1581.0,1141.2 L1586.2,1146.5 L1586.2,1141.2 L1586.2,1146.5 L1591.4,1151.7 L1591.4,1156.9 L1596.7,1156.9 L1596.7,1162.2 L1601.9,1162.2 L1601.9,1167.4 L1607.1,1177.9 L1612.4,1188.3 L1612.4,1183.1 L1617.6,1198.8 L1617.6,1204.1 L1622.9,1198.8 L1622.9,1219.8 L1628.1,1214.5 L1628.1,1225.0 L1628.1,1219.8 L1633.3,1230.2 L1633.3,1235.5 L1638.6,1230.2 L1638.6,1240.7 L1643.8,1245.9 L1643.8,1251.2 L1649.0,1256.4 L1649.0,1251.2 L1654.3,1256.4 L1659.5,1256.4 L1659.5,1245.9 L1659.5,1251.2 L1664.7,1261.6 L1670.0,1256.4 L1675.2,1256.4 L1675.2,1251.2 L1675.2,1261.6 L1680.4,1245.9 L1680.4,1261.6 L1685.7,1251.2 L1685.7,1261.6 L1690.9,1251.2 L1690.9,1245.9 L1696.1,1245.9 L1696.1,1251.2 L1701.4,1245.9 L1701.4,1240.7 L1706.6,1235.5 L1706.6,1240.7 L1711.8,1230.2 L1717.1,1240.7 L1717.1,1219.8 L1717.1,1230.2 L1722.3,1230.2 L1722.3,1225.0 L1727.6,1225.0 L1727.6,1219.8 L1732.8,1214.5 L1732.8,1204.1 L1738.0,1204.1 L1738.0,1198.8 L1743.3,1198.8 L1743.3,1188.3 L1748.5,1177.9 L1748.5,1172.6 L1753.7,1167.4 L1753.7,1151.7 L1759.0,1156.9 L1759.0,1151.7 L1764.2,1141.2 L1764.2,1136.0 L1769.4,1125.5 L1769.4,1120.3 L1774.7,1104.6 L1774.7,1088.9 L1779.9,1073.2 L1785.1,1062.7 L1785.1,1057.5 L1790.4,1047.0 L1790.4,1036.5 L1795.6,1026.1 L1795.6,1020.8 L1800.8,1005.1 L1806.1,1005.1 L1806.1,994.7 L1811.3,978.9 L1816.5,968.5 L1816.5,958.0 L1821.8,947.5 L1821.8,921.4 L1827.0,910.9 L1827.0,900.4 L1832.2,890.0 L1832.2,884.7 L1837.5,874.2 L1837.5,869.0 L1842.7,863.8 L1842.7,858.5 L1848.0,848.1 L1848.0,837.6 L1853.2,827.1 L1853.2,821.9 L1858.4,816.7 L1858.4,806.2 L1863.7,801.0 L1863.7,790.5 L1868.9,785.2 L1868.9,780.0 L1874.1,774.8 L1874.1,764.3 L1879.4,759.1 L1879.4,748.6 L1884.6,743.4 L1884.6,738.1 L1889.8,732.9 L1889.8,727.7 L1895.1,722.4 L1895.1,717.2 L1900.3,712.0 L1900.3,701.5 L1905.5,696.3 L1910.8,691.0 L1910.8,685.8 L1916.0,685.8 L1916.0,680.6 L1921.2,675.3 L1926.5,670.1 L1931.7,670.1 L1931.7,664.8 L1937.0,659.6 L1942.2,654.4 L1947.4,649.1 L1952.7,649.1 L1952.7,643.9 L1963.1,643.9 L1968.4,638.7 L1973.6,633.4 L1978.8,633.4 L1978.8,628.2 L1989.3,628.2 L1994.5,623.0 L1994.5,628.2 L1999.8,623.0 L2010.2,623.0 L2015.5,617.7 L2036.4,617.7 L2036.4,612.5 L2041.7,612.5 L2046.9,607.3 L2052.1,607.3 L2057.4,602.0 L2062.6,602.0 L2067.8,596.8 L2073.1,591.6 L2083.5,591.6 L2083.5,586.3 L2088.8,581.1 L2094.0,575.9 L2094.0,581.1 L2104.5,581.1 L2104.5,575.9 L2114.9,575.9 L2120.2,581.1 L2125.4,581.1 L2130.6,586.3 L2135.9,591.6 L2135.9,596.8 L2141.1,602.0 L2146.3,612.5 L2146.3,617.7 L2151.6,628.2 L2156.8,638.7 L2156.8,643.9 L2162.1,649.1 L2167.3,659.6 L2167.3,670.1 L2172.5,680.6 L2172.5,685.8 L2177.8,696.3 L2183.0,706.7 L2183.0,717.2 L2188.2,722.4 L2188.2,732.9 L2193.5,743.4 L2198.7,753.8 L2198.7,764.3 L2203.9,774.8 L2203.9,785.2 L2209.2,795.7 L2214.4,806.2 L2214.4,811.4 L2219.6,821.9 L2219.6,832.4 L2224.9,842.8 L2230.1,848.1 L2230.1,858.5 L2235.3,869.0 L2235.3,874.2 L2240.6,884.7 L2245.8,895.2 L2245.8,900.4 L2251.1,910.9 L2251.1,916.1 L2256.3,926.6 L2261.5,931.8 L2261.5,942.3 L2266.8,947.5 L2272.0,952.8 L2277.2,958.0 L2277.2,963.2 L2282.5,963.2 L2287.7,968.5 L2287.7,973.7 L2292.9,973.7 L2298.2,984.2 L2303.4,999.9 L2303.4,1010.4 L2308.6,1026.1 L2313.9,1036.5 L2313.9,1041.8 L2319.1,1047.0 L2324.3,1047.0 L2329.6,1052.2 L2334.8,1057.5 L2334.8,1073.2 L2340.0,1088.9 L2340.0,1094.1 L2345.3,1094.1 L2350.5,1099.4 L2350.5,1109.8 L2361.0,1109.8 L2366.2,1099.4 L2371.5,1088.9 L2371.5,1094.1 L2376.7,1094.1 L2381.9,1115.1 L2381.9,1136.0 L2392.4,1136.0 L2392.4,1141.2 L2397.6,1146.5 L2402.9,1177.9"/>
<path stroke="#0d0d0d" d="M481.6,963.2 L486.9,958.0 L486.9,963.2 L486.9,952.8 L492.1,952.8 L492.1,958.0 L492.1,952.8 L492.1,958.0 L492.1,952.8 L497.3,958.0 L497.3,952.8 L502.6,958.0 L502.6,947.5 L502.6,952.8 L502.6,942.3 L507.8,952.8 L507.8,942.3 L507.8,952.8 L507.8,942.3 L513.0,947.5 L513.0,942.3 L513.0,952.8 L513.0,947.5 L518.3,947.5 L518.3,942.3 L523.5,947.5 L523.5,942.3 L523.5,952.8 L523.5,942.3 L523.5,952.8 L523.5,942.3 L528.7,947.5 L528.7,942.3 L528.7,947.5 L528.7,942.3 L528.7,947.5 L534.0,942.3 L534.0,947.5 L534.0,937.1 L534.0,952.8 L539.2,947.5 L539.2,958.0 L539.2,937.1 L539.2,958.0 L544.4,947.5 L544.4,942.3 L544.4,958.0 L544.4,942.3 L544.4,958.0 L549.7,947.5 L549.7,952.8 L554.9,952.8 L554.9,958.0 L554.9,952.8 L554.9,958.0 L554.9,947.5 L560.1,958.0 L560.1,947.5 L560.1,958.0 L560.1,952.8 L565.4,958.0 L565.4,947.5 L565.4,963.2 L565.4,952.8 L570.6,963.2 L570.6,958.0 L570.6,968.5 L570.6,958.0 L575.9,963.2 L575.9,958.0 L575.9,968.5 L575.9,963.2 L581.1,958.0 L586.3,973.7 L586.3,963.2 L586.3,973.7 L586.3,963.2 L586.3,968.5 L586.3,963.2 L591.6,973.7 L591.6,968.5 L591.6,978.9 L591.6,968.5 L591.6,978.9 L596.8,978.9 L596.8,968.5 L596.8,978.9 L596.8,973.7 L602.0,978.9 L602.0,984.2 L602.0,978.9 L602.0,984.2 L607.3,978.9 L607.3,994.7 L607.3,978.9 L612.5,984.2 L612.5,978.9 L612.5,994.7 L617.7,994.7 L617.7,984.2 L617.7,994.7 L617.7,984.2 L617.7,994.7 L623.0,994.7 L623.0,984.2 L623.0,994.7 L623.0,984.2 L628.2,989.4 L623.0,994.7 L628.2,952.8 L628.2,821.9 L628.2,999.9 L628.2,994.7 L633.4,994.7 L633.4,999.9 L633.4,994.7 L633.4,999.9 L638.7,1005.1 L638.7,999.9 L638.7,1010.4 L638.7,1005.1 L643.9,1005.1 L643.9,1010.4 L643.9,1005.1 L643.9,1010.4 L649.1,1010.4 L649.1,1005.1 L649.1,1015.6 L649.1,1010.4 L649.1,1026.1 L654.4,1015.6 L654.4,1020.8 L659.6,1020.8 L659.6,1010.4 L664.8,1020.8 L664.8,1010.4 L664.8,1026.1 L670.1,1020.8 L675.3,1015.6 L675.3,1036.5 L675.3,1026.1 L675.3,1031.3 L680.6,1026.1 L680.6,1031.3 L680.6,1026.1 L680.6,1036.5 L680.6,1031.3 L685.8,1026.1 L685.8,1041.8 L685.8,1036.5 L691.0,1036.5 L691.0,1047.0 L691.0,1031.3 L696.3,1047.0 L696.3,1041.8 L696.3,1052.2 L696.3,1047.0 L701.5,1041.8 L701.5,1052.2 L706.7,1052.2 L706.7,1047.0 L712.0,1052.2 L712.0,1047.0 L712.0,1057.5 L717.2,1062.7 L717.2,1047.0 L717.2,1062.7 L717.2,1057.5 L722.4,1062.7 L722.4,1057.5 L722.4,1067.9 L722.4,1057.5 L727.7,1067.9 L727.7,1057.5 L727.7,1067.9 L732.9,1073.2 L732.9,1057.5 L732.9,1073.2 L738.1,1067.9 L738.1,1073.2 L738.1,1067.9 L738.1,1078.4 L743.4,1067.9 L743.4,1078.4 L748.6,1078.4 L748.6,1073.2 L748.6,1083.6 L753.8,1078.4 L753.8,1088.9 L759.1,1073.2 L759.1,1094.1 L764.3,1088.9 L764.3,1094.1 L764.3,1078.4 L769.5,1083.6 L769.5,1088.9 L774.8,1099.4 L774.8,1078.4 L774.8,1099.4 L774.8,1094.1 L780.0,1088.9 L780.0,1094.1 L785.2,1094.1 L785.2,1088.9 L785.2,1094.1 L790.5,1083.6 L790.5,1099.4 L790.5,1088.9 L795.7,1099.4 L795.7,1094.1 L801.0,1088.9 L801.0,1094.1 L801.0,1088.9 L801.0,1094.1 L806.2,1088.9 L806.2,1099.4 L806.2,1083.6 L811.4,1099.4 L811.4,1083.6 L811.4,1099.4 L811.4,1083.6 L816.7,1088.9 L816.7,1094.1 L821.9,1083.6 L821.9,1094.1 L821.9,1088.9 L827.1,1088.9 L827.1,1083.6 L832.4,1083.6 L832.4,1088.9 L832.4,1083.6 L837.6,1094.1 L837.6,1078.4 L837.6,1083.6 L842.8,1078.4 L842.8,1062.7 L848.1,1067.9 L848.1,1057.5 L848.1,1073.2 L853.3,1062.7 L853.3,1067.9 L853.3,1057.5 L858.5,1067.9 L858.5,1052.2 L858.5,1067.9 L863.8,1057.5 L863.8,1062.7 L863.8,1052.2 L869.0,1047.0 L869.0,1057.5 L869.0,1052.2 L874.2,1052.2 L874.2,1057.5 L874.2,1041.8 L879.5,1041.8 L879.5,1047.0 L879.5,1036.5 L879.5,1041.8 L884.7,1052.2 L884.7,1036.5 L890.0,1036.5 L890.0,1041.8 L890.0,1031.3 L890.0,1036.5 L895.2,1036.5 L895.2,1041.8 L900.4,1036.5 L900.4,1026.1 L905.7,1026.1 L905.7,1020.8 L905.7,1031.3 L910.9,1031.3 L910.9,1020.8 L916.1,1031.3 L916.1,1020.8 L921.4,1020.8 L921.4,1026.1 L921.4,1010.4 L926.6,1015.6 L926.6,1020.8 L931.8,1015.6 L931.8,999.9 L931.8,1010.4 L937.1,1010.4 L937.1,1005.1 L942.3,1010.4 L942.3,1005.1 L947.5,1005.1 L947.5,1010.4 L947.5,1005.1 L952.8,1005.1 L952.8,1010.4 L952.8,999.9 L958.0,999.9 L958.0,1005.1 L958.0,999.9 L958.0,1005.1 L963.2,1010.4 L963.2,1005.1 L963.2,1010.4 L968.5,1010.4 L968.5,1005.1 L968.5,1010.4 L973.7,999.9 L973.7,1010.4 L973.7,1005.1 L978.9,1010.4 L978.9,1005.1 L978.9,1010.4 L984.2,999.9 L984.2,1005.1 L984.2,999.9 L984.2,1010.4 L989.4,1010.4 L994.7,1015.6 L994.7,1010.4 L994.7,1015.6 L999.9,1010.4 L999.9,1026.1 L999.9,1020.8 L1005.1,1015.6 L1005.1,1031.3 L1005.1,1020.8 L1010.4,1031.3 L1010.4,1026.1 L1010.4,1031.3 L1010.4,1020.8 L1015.6,1026.1 L1020.8,1031.3 L1020.8,1036.5 L1026.1,1036.5 L1026.1,1031.3 L1026.1,1036.5 L1031.3,1036.5 L1031.3,1047.0 L1031.3,1036.5 L1036.5,1041.8 L1036.5,1052.2 L1041.8,1047.0 L1041.8,1057.5 L1041.8,1052.2 L1047.0,1052.2 L1047.0,1062.7 L1047.0,1057.5 L1052.2,1062.7 L1052.2,1057.5 L1057.5,1067.9 L1057.5,1062.7 L1057.5,1073.2 L1062.7,1073.2 L1062.7,1083.6 L1067.9,1073.2 L1067.9,1083.6 L1067.9,1078.4 L1073.2,1088.9 L1073.2,1078.4 L1073.2,1083.6 L1078.4,1088.9 L1078.4,1099.4 L1078.4,1088.9 L1083.6,1094.1 L1083.6,1099.4 L1088.9,1104.6 L1088.9,1099.4 L1088.9,1104.6 L1094.1,1115.1 L1099.4,1115.1 L1099.4,1125.5 L1104.6,1130.8 L1104.6,1125.5 L1109.8,1130.8 L1109.8,1141.2 L1109.8,1125.5 L1115.1,1130.8 L1115.1,1146.5 L1115.1,1141.2 L1120.3,1136.0 L1120.3,1156.9 L1120.3,1141.2 L1125.5,1151.7 L1125.5,1156.9 L1125.5,1151.7 L1125.5,1156.9 L1130.8,1162.2 L1130.8,1151.7 L1130.8,1162.2 L1136.0,1167.4 L1136.0,1162.2 L1141.2,1167.4 L1146.5,1177.9 L1146.5,1183.1 L1151.7,1167.4 L1151.7,1188.3 L1156.9,1193.6 L1156.9,1183.1 L1156.9,1188.3 L1162.2,1193.6 L1162.2,1204.1 L1167.4,1204.1 L1167.4,1214.5 L1172.6,1204.1 L1172.6,1214.5 L1177.9,1209.3 L1177.9,1219.8 L1177.9,1209.3 L1183.1,1214.5 L1183.1,1230.2 L1188.3,1225.0 L1188.3,1219.8 L1188.3,1230.2 L1193.6,1219.8 L1193.6,1230.2 L1193.6,1219.8 L1198.8,1235.5 L1198.8,1225.0 L1204.1,1235.5 L1204.1,1240.7 L1209.3,1235.5 L1209.3,1245.9 L1209.3,1235.5 L1214.5,1240.7 L1214.5,1256.4 L1214.5,1240.7 L1219.8,1240.7 L1219.8,1251.2 L1225.0,1251.2 L1225.0,1261.6 L1225.0,1256.4 L1230.2,1251.2 L1230.2,1261.6 L1230.2,1256.4 L1235.5,1266.9 L1240.7,1272.1 L1240.7,1261.6 L1240.7,1266.9 L1245.9,1266.9 L1245.9,1277.3 L1251.2,1277.3 L1251.2,1272.1 L1256.4,1272.1 L1256.4,1277.3 L1261.6,1277.3 L1261.6,1282.6 L1266.9,1277.3 L1266.9,1282.6 L1272.1,1287.8 L1272.1,1277.3 L1272.1,1287.8 L1277.3,1287.8 L1277.3,1282.6 L1277.3,1287.8 L1282.6,1282.6 L1282.6,1287.8 L1282.6,1282.6 L1287.8,1277.3 L1287.8,1293.0 L1287.8,1287.8 L1293.0,1282.6 L1293.0,1293.0 L1293.0,1282.6 L1298.3,1287.8 L1298.3,1277.3 L1298.3,1282.6 L1303.5,1287.8 L1303.5,1293.0 L1308.8,1287.8 L1314.0,1277.3 L1314.0,1266.9 L1319.2,1277.3 L1319.2,1282.6 L1324.5,1272.1 L1324.5,1277.3 L1324.5,1261.6 L1329.7,1277.3 L1329.7,1266.9 L1329.7,1272.1 L1334.9,1266.9 L1334.9,1261.6 L1334.9,1266.9 L1340.2,1256.4 L1340.2,1261.6 L1345.4,1261.6 L1345.4,1256.4 L1350.6,1256.4 L1350.6,1240.7 L1350.6,1256.4 L1355.9,1251.2 L1361.1,1245.9 L1361.1,1251.2 L1361.1,1245.9 L1366.3,1256.4 L1366.3,1240.7 L1366.3,1251.2 L1371.6,1240.7 L1371.6,1245.9 L1371.6,1240.7 L1376.8,1235.5 L1376.8,1230.2 L1376.8,1240.7 L1382.0,1230.2 L1382.0,1235.5 L1387.3,1240.7 L1387.3,1235.5 L1392.5,1225.0 L1392.5,1230.2 L1392.5,1225.0 L1397.7,1219.8 L1397.7,1230.2 L1397.7,1219.8 L1403.0,1219.8 L1403.0,1214.5 L1408.2,1209.3 L1413.5,1214.5 L1413.5,1209.3 L1418.7,1204.1 L1418.7,1209.3 L1423.9,1204.1 L1423.9,1198.8 L1429.2,1193.6 L1429.2,1198.8 L1429.2,1183.1 L1434.4,1193.6 L1434.4,1183.1 L1434.4,1188.3 L1439.6,1183.1 L1439.6,1177.9 L1444.9,1177.9 L1444.9,1167.4 L1450.1,1167.4 L1450.1,1162.2 L1455.3,1172.6 L1455.3,1162.2 L1460.6,1167.4 L1460.6,1156.9 L1465.8,1156.9 L1465.8,1162.2 L1465.8,1156.9 L1471.0,1151.7 L1471.0,1146.5 L1476.3,1162.2 L1476.3,1146.5 L1481.5,1156.9 L1481.5,1151.7 L1486.7,1151.7 L1486.7,1146.5 L1486.7,1156.9 L1492.0,1151.7 L1492.0,1146.5 L1492.0,1151.7 L1497.2,1156.9 L1497.2,1151.7 L1502.4,1146.5 L1502.4,1156.9 L1502.4,1146.5 L1507.7,1151.7 L1507.7,1146.5 L1512.9,1146.5 L1512.9,1156.9 L1518.2,1156.9 L1518.2,1151.7 L1523.4,1156.9 L1523.4,1151.7 L1523.4,1156.9 L1528.6,1151.7 L1528.6,1156.9 L1533.9,1156.9 L1533.9,1172.6 L1539.1,1162.2 L1539.1,1167.4 L1544.3,1167.4 L1544.3,1156.9 L1544.3,1167.4 L1549.6,1172.6 L1549.6,1162.2 L1554.8,1167.4 L1554.8,1177.9 L1554.8,1172.6 L1560.0,1167.4 L1560.0,1172.6 L1565.3,1167.4 L1565.3,1172.6 L1570.5,1172.6 L1570.5,1177.9 L1575.7,1183.1 L1575.7,1172.6 L1581.0,1172.6 L1586.2,1183.1 L1586.2,1177.9 L1591.4,1177.9 L1591.4,1188.3 L1596.7,1188.3 L1596.7,1183.1 L1601.9,1198.8 L1601.9,1188.3 L1607.1,1198.8 L1607.1,1188.3 L1612.4,1204.1 L1612.4,1198.8 L1617.6,1209.3 L1617.6,1193.6 L1622.9,1198.8 L1628.1,1198.8 L1628.1,1193.6 L1628.1,1209.3 L1633.3,1204.1 L1633.3,1198.8 L1638.6,1204.1 L1638.6,1214.5 L1643.8,1204.1 L1649.0,1209.3 L1649.0,1204.1 L1654.3,1204.1 L1659.5,1198.8 L1659.5,1209.3 L1664.7,1198.8 L1670.0,1183.1 L1670.0,1198.8 L1675.2,1198.8 L1675.2,1183.1 L1675.2,1188.3 L1680.4,1177.9 L1680.4,1183.1 L1685.7,1177.9 L1685.7,1167.4 L1690.9,1177.9 L1696.1,1167.4 L1696.1,1156.9 L1696.1,1162.2 L1701.4,1156.9 L1706.6,1151.7 L1706.6,1146.5 L1711.8,1146.5 L1711.8,1141.2 L1717.1,1136.0 L1717.1,1125.5 L1722.3,1120.3 L1722.3,1109.8 L1727.6,1104.6 L1727.6,1099.4 L1732.8,1088.9 L1732.8,1078.4 L1738.0,1067.9 L1738.0,1073.2 L1743.3,1057.5 L1743.3,1047.0 L1748.5,1036.5 L1748.5,1031.3 L1753.7,1015.6 L1759.0,1015.6 L1759.0,999.9 L1764.2,999.9 L1764.2,984.2 L1769.4,973.7 L1769.4,968.5 L1774.7,952.8 L1774.7,937.1 L1779.9,910.9 L1779.9,905.7 L1785.1,895.2 L1785.1,884.7 L1790.4,874.2 L1790.4,863.8 L1795.6,853.3 L1795.6,842.8 L1800.8,832.4 L1800.8,827.1 L1806.1,816.7 L1806.1,811.4 L1811.3,795.7 L1811.3,785.2 L1816.5,764.3 L1816.5,748.6 L1821.8,738.1 L1821.8,712.0 L1827.0,696.3 L1827.0,680.6 L1832.2,680.6 L1832.2,664.8 L1837.5,659.6 L1837.5,643.9 L1842.7,633.4 L1842.7,617.7 L1848.0,607.3 L1848.0,596.8 L1853.2,586.3 L1853.2,575.9 L1858.4,570.6 L1858.4,560.1 L1863.7,549.7 L1863.7,544.4 L1868.9,539.2 L1868.9,528.7 L1874.1,518.3 L1874.1,502.6 L1879.4,497.3 L1879.4,486.9 L1884.6,481.6 L1884.6,476.4 L1889.8,465.9 L1889.8,455.4 L1895.1,445.0 L1895.1,439.7 L1900.3,429.3 L1900.3,424.0 L1905.5,418.8 L1905.5,413.6 L1910.8,403.1 L1916.0,392.6 L1921.2,387.4 L1921.2,382.2 L1926.5,371.7 L1931.7,361.2 L1937.0,356.0 L1937.0,350.7 L1942.2,350.7 L1942.2,345.5 L1947.4,345.5 L1947.4,340.3 L1952.7,335.0 L1957.9,329.8 L1957.9,324.6 L1968.4,324.6 L1968.4,319.3 L1973.6,314.1 L1978.8,314.1 L1978.8,308.9 L1984.1,308.9 L1984.1,303.6 L1989.3,303.6 L1994.5,298.4 L1999.8,298.4 L2005.0,293.2 L2031.2,293.2 L2031.2,287.9 L2052.1,287.9 L2057.4,282.7 L2057.4,287.9 L2067.8,287.9 L2073.1,293.2 L2083.5,293.2 L2083.5,298.4 L2088.8,298.4 L2088.8,303.6 L2104.5,303.6 L2109.7,308.9 L2114.9,308.9 L2114.9,319.3 L2120.2,324.6 L2125.4,329.8 L2130.6,340.3 L2130.6,345.5 L2135.9,356.0 L2135.9,361.2 L2141.1,371.7 L2146.3,376.9 L2146.3,397.9 L2151.6,403.1 L2151.6,408.3 L2156.8,424.0 L2156.8,445.0 L2162.1,455.4 L2167.3,465.9 L2167.3,486.9 L2172.5,492.1 L2172.5,502.6 L2177.8,523.5 L2183.0,534.0 L2183.0,549.7 L2188.2,560.1 L2188.2,575.9 L2193.5,591.6 L2198.7,612.5 L2198.7,628.2 L2203.9,643.9 L2203.9,659.6 L2209.2,670.1 L2214.4,680.6 L2214.4,696.3 L2219.6,712.0 L2219.6,722.4 L2224.9,738.1 L2230.1,753.8 L2230.1,769.5 L2235.3,780.0 L2235.3,795.7 L2240.6,806.2 L2245.8,821.9 L2245.8,837.6 L2251.1,853.3 L2251.1,869.0 L2256.3,890.0 L2261.5,900.4 L2261.5,916.1 L2266.8,926.6 L2272.0,942.3 L2272.0,952.8 L2277.2,963.2 L2277.2,973.7 L2282.5,989.4 L2287.7,999.9 L2287.7,1010.4 L2292.9,1020.8 L2298.2,1031.3 L2298.2,1041.8 L2303.4,1057.5 L2303.4,1067.9 L2308.6,1083.6 L2313.9,1094.1 L2313.9,1099.4 L2319.1,1104.6 L2324.3,1115.1 L2324.3,1125.5 L2329.6,1136.0 L2334.8,1146.5 L2334.8,1162.2 L2340.0,1162.2 L2340.0,1167.4 L2345.3,1162.2 L2350.5,1172.6 L2350.5,1183.1 L2355.8,1188.3 L2361.0,1193.6 L2361.0,1198.8 L2366.2,1214.5 L2371.5,1209.3 L2371.5,1198.8 L2376.7,1193.6 L2381.9,1209.3 L2381.9,1230.2 L2387.2,1245.9 L2392.4,1245.9 L2397.6,1256.4 L2402.9,1293.0"/>
</g>
<g stroke="#000" fill="none">
<path stroke-width="12.7" d="M398.3,62.7 V1769.4"/>
<path stroke-width="12.5" d="M398.3,1769.4 H2460.5"/>
<path stroke-width="12.7" d="M398.3,362.7 H424 M398.3,287.1 H424 M398.3,233.5 H424 M398.3,191.9 H424 M398.3,157.9 H424 M398.3,132.2 H424 M398.3,107.3 H424 M398.3,82.3 H424 M398.3,788.3 H424 M398.3,713.7 H424 M398.3,660.7 H424 M398.3,619.6 H424 M398.3,586.0 H424 M398.3,555.8 H424 M398.3,531.1 H424 M398.3,511.3 H424 M398.3,1215.9 H424 M398.3,1140.3 H424 M398.3,1086.7 H424 M398.3,1045.1 H424 M398.3,1011.2 H424 M398.3,986.3 H424 M398.3,961.1 H424 M398.3,935.6 H424 M398.3,1641.6 H424 M398.3,1566.9 H424 M398.3,1513.9 H424 M398.3,1472.8 H424 M398.3,1439.2 H424 M398.3,1410.7 H424 M398.3,1384.8 H424 M398.3,1364.4 H424"/>
<path stroke-width="13.7" d="M398.3,62.7 H429 M398.3,491.9 H429 M398.3,916.0 H429 M398.3,1345.0 H429"/>
<path stroke-width="12.8" d="M508.4,1769.4 V1743.9 M618.3,1769.4 V1738.9 M723.1,1769.4 V1743.9 M833,1769.4 V1738.9 M942.2,1769.4 V1743.9 M1052.4,1769.4 V1738.9 M1157.4,1769.4 V1743.9 M1267.3,1769.4 V1738.9 M1376.8,1769.4 V1743.9 M1487,1769.4 V1738.9 M1591.9,1769.4 V1743.9 M1701.4,1769.4 V1738.9 M1811.4,1769.4 V1743.9 M1921.3,1769.4 V1738.9 M2026.1,1769.4 V1743.9 M2136,1769.4 V1738.9 M2245.9,1769.4 V1743.9 M2355.4,1769.4 V1738.9 M2460.5,1769.4 V1743.9"/>
</g>
<g stroke="#000" fill="none" stroke-dasharray="16.9 12.2 4.5 12.25">
<path stroke-width="4.7" d="M528.4,541.2 V1776.5"/>
<path stroke-width="4.7" d="M952.5,541.2 V1776.5"/>
<path stroke-width="4.7" d="M1487,541.2 V1776.5"/>
<path stroke-width="4.7" d="M1946.5,541.2 V1776.5"/>
<path stroke-width="5.8" d="M2140.7,510.9 V1776.5"/>
<path stroke-width="4.7" d="M2325.4,735.8 V1776.5"/>
</g>
<g stroke="#000" stroke-width="9.4" fill="#fff">
<circle cx="528.4" cy="1650" r="72.5"/>
<circle cx="958.1" cy="1650" r="72.5"/>
<circle cx="1481.9" cy="1650" r="72.5"/>
<circle cx="1946.3" cy="1650" r="72.5"/>
<circle cx="2140.8" cy="1650" r="72.5"/>
</g>
<text transform="translate(503.08,1682.00) scale(0.9385,1)" font-size="83.00">5</text>
<text transform="translate(930.67,1682.00) scale(0.9806,1)" font-size="83.00">4</text>
<text transform="translate(1457.37,1682.00) scale(0.9410,1)" font-size="83.00">3</text>
<text transform="translate(1922.32,1682.00) scale(1.0062,1)" font-size="83.00">2</text>
<text transform="translate(2121.69,1682.00) scale(0.9332,1)" font-size="83.00">1</text>
<path d="M2325.8,1644.4 H2236 M2269.6,1622.4 L2233.5,1644.4 L2269.6,1666.3" stroke="#000" stroke-width="5.2" fill="none" stroke-linecap="butt" stroke-linejoin="miter" stroke-miterlimit="10"/>
<path d="M614.8,653.3 H656.1 L635.5,688.6 Z" fill="#000"/>
<path d="M910.7,268.8 H950.8 L930.75,304.5 Z" fill="#000"/>
<g stroke-width="12.7" stroke-linecap="round" fill="none">
<path stroke="#bfbfbf" d="M523.0,167.7 H683.5"/>
<path stroke="#7f7f7f" d="M847.6,167.7 H1008.5"/>
<path stroke="#404040" d="M1267.0,167.7 H1427.7"/>
<path stroke="#0d0d0d" d="M1681.6,167.7 H1842.4"/>
</g>
<text transform="translate(694.97,189.00) scale(0.9437,1)" font-size="86.00" font-weight="bold">A0</text>
<text transform="translate(1020.93,189.00) scale(0.9612,1)" font-size="86.00" font-weight="bold">A500</text>
<text transform="translate(1438.44,189.00) scale(0.9577,1)" font-size="86.00" font-weight="bold">A600</text>
<text transform="translate(1853.52,189.00) scale(0.9687,1)" font-size="86.00" font-weight="bold">A700</text>
<text transform="translate(969.36,312.00) scale(0.9583,1)" font-size="84.40">2</text>
<text transform="translate(1014.82,282.00) scale(1.0822,1)" font-size="54.50">nd</text>
<text transform="translate(0,312.00) scale(0.9000,1)" x="1224.3 1245.6 1296.6 1335.0 1385.3" font-size="84.40" stroke="#000" stroke-width="1.0" stroke-linejoin="round">laser</text>
<text transform="translate(0,312.00) scale(0.9000,1)" x="1446.1 1495.6 1543.9 1581.1 1658.7 1713.1 1761.9 1785.3" font-size="84.40" stroke="#000" stroke-width="1.0" stroke-linejoin="round">harmonic</text>
<text transform="translate(155.33,90.90) scale(0.9584,1)" font-size="92.80">100</text>
<text transform="translate(206.28,517.70) scale(0.9517,1)" font-size="92.80">10</text>
<text transform="translate(256.49,945.90) scale(0.9069,1)" font-size="92.80">1</text>
<text transform="translate(179.02,1372.80) scale(0.9647,1)" font-size="92.80">0.1</text>
<text transform="translate(127.50,1800.70) scale(0.9688,1)" font-size="92.80">0.01</text>
<text transform="translate(336.17,1930.80) scale(0.9745,1)" font-size="92.80">1.7</text>
<text transform="translate(552.89,1930.80) scale(0.9707,1)" font-size="92.80">1.9</text>
<text transform="translate(771.52,1930.80) scale(0.9538,1)" font-size="92.80">2.1</text>
<text transform="translate(988.59,1930.80) scale(0.9501,1)" font-size="92.80">2.3</text>
<text transform="translate(1205.70,1930.80) scale(0.9483,1)" font-size="92.80">2.5</text>
<text transform="translate(1425.37,1930.80) scale(0.9556,1)" font-size="92.80">2.7</text>
<text transform="translate(1639.78,1930.80) scale(0.9519,1)" font-size="92.80">2.9</text>
<text transform="translate(1860.81,1930.80) scale(0.9446,1)" font-size="92.80">3.1</text>
<text transform="translate(2077.83,1930.80) scale(0.9410,1)" font-size="92.80">3.3</text>
<text transform="translate(2294.93,1930.80) scale(0.9392,1)" font-size="92.80">3.5</text>
<rect x="603.8" y="1942.6" width="1.6" height="1.6" fill="#222"/><rect x="179.4" y="1813" width="1.6" height="1.6" fill="#222"/>
<text transform="translate(0,2073.90) scale(0.9200,1)" x="1280.7 1344.2 1408.1 1469.8 1508.9 1571.7" font-size="105.60" stroke="#000" stroke-width="1.5" stroke-linejoin="round">Energy</text>
<text transform="translate(0,2073.90) scale(0.9500,1)" x="1611.3 1646.4 1702.6 1778.8" font-size="105.60" stroke="#000" stroke-width="1.5" stroke-linejoin="round">(eV)</text>
<g transform="translate(112,1597.6) rotate(-90)">
<text transform="translate(0,0.00) scale(0.9300,1)" x="-8.7 70.8 136.5 179.3 274.7 335.7 362.3 383.5 430.8 489.8" font-size="105.60" stroke="#000" stroke-width="1.7" stroke-linejoin="round">Normalized</text>
<text transform="translate(0,0.00) scale(0.9500,1)" x="591.3 654.3" font-size="105.60" stroke="#000" stroke-width="1.7" stroke-linejoin="round">PL</text>
<text transform="translate(0,0.00) scale(0.9300,1)" x="749.0 775.7 839.2 881.4 942.4 1006.9 1056.0 1080.0 1122.6" font-size="105.60" stroke="#000" stroke-width="1.7" stroke-linejoin="round">intensity</text>
<text transform="translate(0,0.00) scale(0.9500,1)" x="1189.1 1227.4 1282.2 1316.9 1377.5 1416.4" font-size="105.60" stroke="#000" stroke-width="1.7" stroke-linejoin="round">(a.u.)</text>
</g>
</svg>
</body></html>
